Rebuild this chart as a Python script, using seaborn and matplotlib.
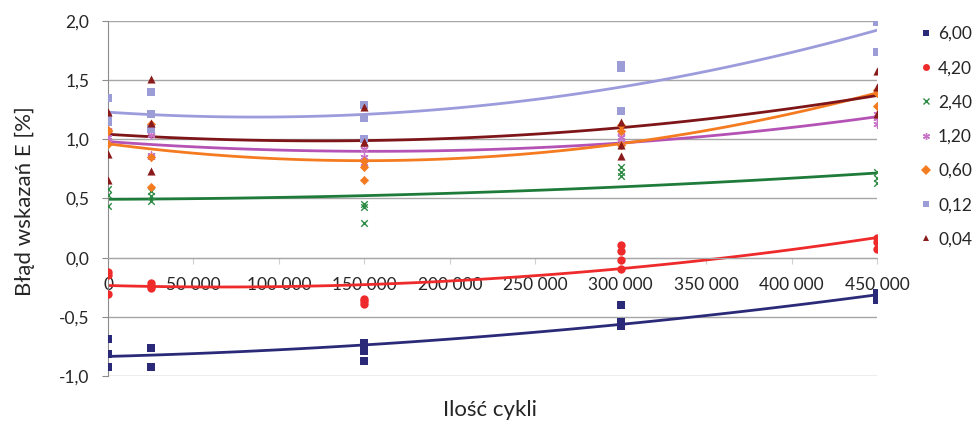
import numpy as np
import pandas as pd
import matplotlib
matplotlib.use("Agg")
import matplotlib.pyplot as plt
from matplotlib.lines import Line2D
import seaborn as sns

# data
loads = ["6,00", "4,20", "2,40", "1,20", "0,60", "0,12", "0,04"]

x_6_00 = [0, 0, 0, 25000, 25000, 150000, 150000, 150000,
          300000, 300000, 300000, 300000, 450000, 450000, 450000]
y_6_00 = [-0.69, -0.81, -0.92, -0.76, -0.92, -0.72, -0.79, -0.87,
          -0.40, -0.54, -0.56, -0.58, -0.30, -0.34, -0.36]

x_4_20 = [0, 0, 0, 25000, 25000, 25000, 150000, 150000, 150000,
          300000, 300000, 300000, 300000, 450000, 450000, 450000]
y_4_20 = [-0.12, -0.15, -0.31, -0.21, -0.24, -0.26, -0.35, -0.37, -0.39,
          0.11, 0.06, -0.02, -0.10, 0.17, 0.13, 0.07]

cyc3 = [0, 0, 0, 25000, 25000, 25000, 150000, 150000, 150000,
        300000, 300000, 300000, 450000, 450000, 450000]

y_2_40 = [0.58, 0.53, 0.44, 0.56, 0.52, 0.48, 0.45, 0.43, 0.29, 0.77, 0.69, 0.72, 0.72, 0.67, 0.63]
y_1_20 = [1.08, 1.02, 0.98, 1.04, 0.87, 0.85, 0.92, 0.85, 0.80, 1.06, 1.02, 0.98, 1.21, 1.18, 1.13]
y_0_60 = [1.07, 0.96, 1.08, 0.85, 0.60, 1.13, 0.82, 0.77, 0.66, 1.12, 1.07, 0.95, 1.39, 1.28, 1.42]
y_0_12 = [1.35, 1.18, 1.15, 1.40, 1.21, 1.09, 1.29, 1.18, 1.00, 1.63, 1.60, 1.24, 1.99, 1.74, 1.99]
y_0_04 = [1.23, 0.88, 0.66, 1.51, 1.14, 0.73, 1.27, 0.98, 0.98, 1.15, 0.95, 0.86, 1.58, 1.44, 1.21]

xs = [x_6_00, x_4_20, cyc3, cyc3, cyc3, cyc3, cyc3]
ys = [y_6_00, y_4_20, y_2_40, y_1_20, y_0_60, y_0_12, y_0_04]

point_colors = ["#2B2A78", "#EE2A2A", "#2E8B45", "#C873C8", "#F47B20", "#9C9CD6", "#8B1A1A"]
line_colors = ["#2B2A78", "#EE2A2A", "#1E7B3A", "#B552B5", "#F47B20", "#9C9CDC", "#7E1518"]
markers = ["s", "o", "x", (6, 2, 0), "D", "s", "^"]
sizes = [32, 36, 22, 26, 22, 36, 34]

sns.set_style("white")
plt.rcParams["font.family"] = ["Lato", "DejaVu Sans"]

fig = plt.figure(figsize=(9.75, 4.23), dpi=100)
ax = fig.add_axes([108 / 975, 1 - 376 / 423, (877 - 108) / 975, (376 - 21) / 423])

handles = []
for lab, x, y, pc, lc, m, s in zip(loads, xs, ys, point_colors, line_colors, markers, sizes):
    df = pd.DataFrame({"cycles": x, "err": y})
    sns.regplot(data=df, x="cycles", y="err", order=2, ci=None, scatter=False,
                truncate=True, ax=ax, line_kws={"color": lc, "lw": 2})
    lined = m in ("x", (6, 2, 0))
    sns.scatterplot(data=df, x="cycles", y="err", color=pc, marker=m, s=s,
                    linewidth=1 if lined else 0, edgecolor=pc, ax=ax, zorder=3)
    handles.append(Line2D([], [], ls="", marker=m, color=pc, markersize=5,
                          markeredgewidth=1 if lined else 0, label=lab))

ax.set_xlim(0, 450000)
ax.set_ylim(-1.0, 2.0)
yt = np.arange(-1.0, 2.01, 0.5)
ax.set_yticks(yt)
ax.set_yticklabels([f"{v:.1f}".replace(".", ",") for v in yt])
ax.set_xticks(np.arange(0, 450001, 50000))
ax.set_xticklabels(["0"] + [f"{v // 1000} 000" for v in range(50000, 450001, 50000)])

ax.grid(axis="y", color="#A6A6A6", lw=1)
ax.set_axisbelow(True)
for sp in ["top", "right"]:
    ax.spines[sp].set_visible(False)
ax.spines["left"].set_color("#8C8C8C")
ax.spines["bottom"].set_color("#A6A6A6")
ax.spines["bottom"].set_position(("data", 0))
ax.tick_params(axis="y", length=4.5, color="#8C8C8C", pad=9, labelsize=12.5, direction="out", left=True)
ax.tick_params(axis="x", length=4, color="#D0D0D0", pad=10, labelsize=12.5, direction="out", bottom=True)

ax.set_xlabel("")
ax.set_ylabel("")
fig.text(490 / 975, 1 - 410 / 423, "Ilość cykli", ha="center", va="center", fontsize=16)
fig.text(25 / 975, 1 - 201 / 423, "Błąd wskazań E [%]", ha="center", va="center",
         rotation=90, fontsize=16)

fig.legend(handles=handles, loc="upper left", bbox_to_anchor=(919 / 975, 1 - 26 / 423),
           frameon=False, fontsize=12.5, handlelength=0.8, handletextpad=0.3,
           labelspacing=1.05, borderaxespad=0, borderpad=0)

fig.savefig("out.png", dpi=100)
